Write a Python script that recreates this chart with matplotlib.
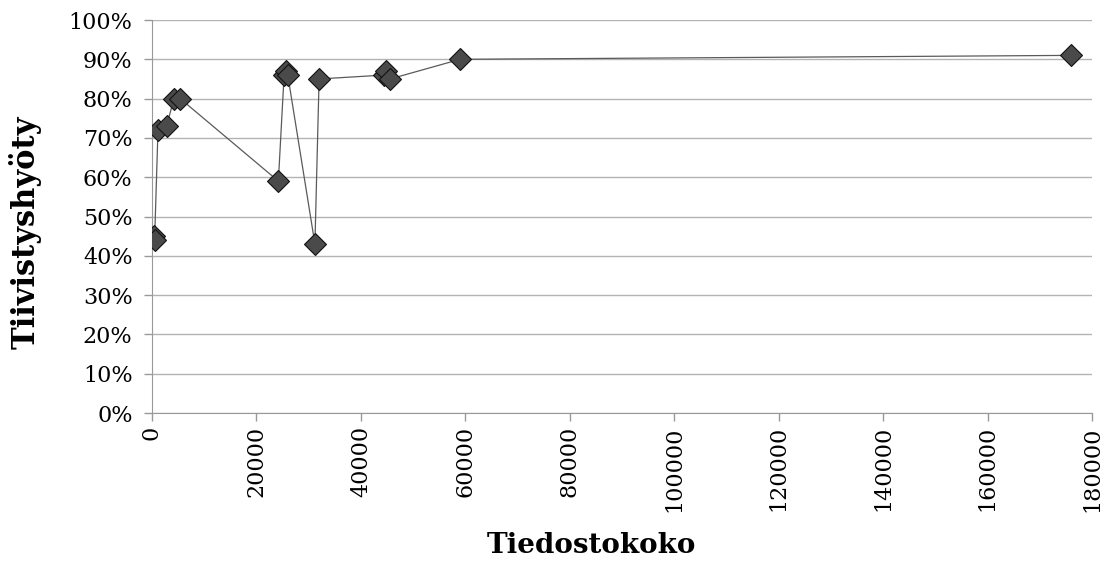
import matplotlib.pyplot as plt
from matplotlib.ticker import PercentFormatter, MultipleLocator

# file size (bytes) vs. compression gain
file_size = [300, 500, 1150, 2800, 4200, 5400, 24200, 25300, 25700, 26000,
             31200, 32000, 44500, 44800, 45600, 59000, 176000]
gain = [0.45, 0.44, 0.72, 0.73, 0.80, 0.80, 0.59, 0.86, 0.87, 0.86,
        0.43, 0.85, 0.86, 0.87, 0.85, 0.90, 0.91]

plt.rcParams['font.family'] = ['DejaVu Serif']

fig = plt.figure(figsize=(11.11, 5.67), dpi=100)
ax = fig.add_axes([0.1368, 0.2716, 0.8461, 0.6931])

ax.plot(file_size, gain, color='#5a5a5a', linewidth=0.9,
        marker='D', markersize=11.5, markerfacecolor='#4a4a4a',
        markeredgecolor='#111111', markeredgewidth=0.8, zorder=3)

ax.set_xlim(0, 180000)
ax.set_ylim(0, 1.0)
ax.xaxis.set_major_locator(MultipleLocator(20000))
ax.yaxis.set_major_locator(MultipleLocator(0.1))
ax.yaxis.set_major_formatter(PercentFormatter(1.0, decimals=0))

ax.grid(axis='y', color='#b3b3b3', linewidth=1.0)
ax.set_axisbelow(True)
for side in ['top', 'right']:
    ax.spines[side].set_visible(False)
for side in ['left', 'bottom']:
    ax.spines[side].set_color('#999999')

ax.tick_params(axis='both', colors='#999999', labelcolor='black',
               labelsize=16, length=6, width=1)
ax.tick_params(axis='y', pad=8)
ax.tick_params(axis='x', labelrotation=90)

ax.set_xlabel('Tiedostokoko', fontsize=20, fontweight='bold', va='center')
ax.set_ylabel('Tiivistyshyöty', fontsize=22, fontweight='bold', va='center')
ax.xaxis.set_label_coords(0.467, -0.336)
ax.yaxis.set_label_coords(-0.135, 0.46)

fig.savefig('out.png', dpi=100)
